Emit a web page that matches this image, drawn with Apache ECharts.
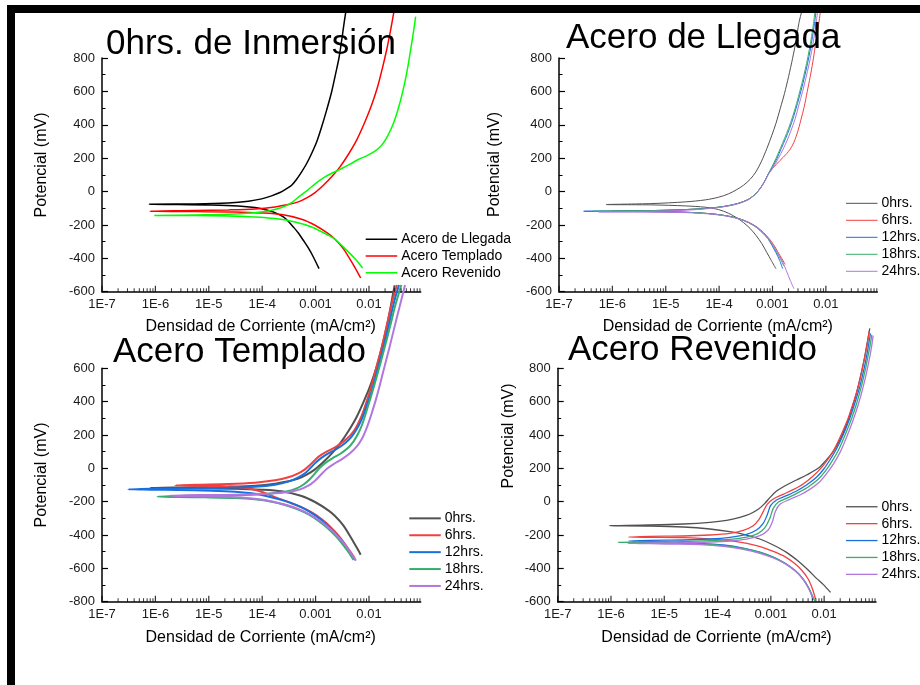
<!DOCTYPE html>
<html><head><meta charset="utf-8">
<script src="https://cdn.jsdelivr.net/npm/echarts@6.0.0/dist/echarts.min.js"></script>
<style>html,body{margin:0;padding:0;background:#fff}#c{width:920px;height:685px}</style>
</head><body><div id="c"></div>
<script>
const FONT = '"Liberation Sans", Arial, Helvetica, sans-serif';

// ---- tick labels / tick values ----
const xTickValues = [1e-7, 1e-6, 1e-5, 1e-4, 1e-3, 1e-2];
const xTickLabels = ['1E-7', '1E-6', '1E-5', '1E-4', '0.001', '0.01'];
const xMinorTicks = [2e-7,3e-7,4e-7,5e-7,6e-7,7e-7,8e-7,9e-7,
  2e-6,3e-6,4e-6,5e-6,6e-6,7e-6,8e-6,9e-6,
  2e-5,3e-5,4e-5,5e-5,6e-5,7e-5,8e-5,9e-5,
  2e-4,3e-4,4e-4,5e-4,6e-4,7e-4,8e-4,9e-4,
  2e-3,3e-3,4e-3,5e-3,6e-3,7e-3,8e-3,9e-3,
  0.02,0.03,0.04,0.05,0.06,0.07,0.08,0.09];

// ---- texts ----
const panelTitles = ['0hrs. de Inmersión', 'Acero de Llegada', 'Acero Templado', 'Acero Revenido'];
const xAxisTitle = 'Densidad de Corriente (mA/cm²)';
const yAxisTitle = 'Potencial (mV)';
const p1Names = ['Acero de Llegada', 'Acero Templado', 'Acero Revenido'];
const hrsNames = ['0hrs.', '6hrs.', '12hrs.', '18hrs.', '24hrs.'];

// ---- data: [current density (mA/cm²), potential (mV)] ----
const p1Llegada = [[1.16e-3,-462],[9.08e-4,-392],[7.31e-4,-338],[5.89e-4,-292],[4.75e-4,-248],[3.83e-4,-212],[3.08e-4,-178],[2.49e-4,-152],[1.74e-4,-126],[1.21e-4,-110],[7.33e-5,-96],[3.57e-5,-86],[1.13e-5,-80],[2.69e-6,-78],[7.69e-7,-76],[5.52e-6,-74],[2.32e-5,-68],[5.50e-5,-58],[9.77e-5,-44],[1.50e-4,-26],[2.15e-4,-6],[2.87e-4,18],[3.56e-4,38],[4.42e-4,74],[5.48e-4,118],[6.81e-4,168],[8.43e-4,228],[1.05e-3,298],[1.30e-3,388],[1.61e-3,488],[2.00e-3,598],[2.38e-3,708],[2.74e-3,800],[3.12e-3,918],[3.45e-3,1018],[3.77e-3,1098]];
const p1Templado = [[6.98e-3,-518],[6.31e-3,-492],[4.73e-3,-422],[3.30e-3,-342],[2.31e-3,-286],[1.73e-3,-252],[9.75e-4,-202],[5.48e-4,-166],[2.32e-4,-138],[9.77e-5,-128],[3.10e-5,-122],[5.52e-6,-120],[7.93e-7,-118],[5.52e-6,-114],[2.32e-5,-110],[7.33e-5,-104],[1.74e-4,-92],[3.08e-4,-78],[4.75e-4,-62],[6.81e-4,-38],[9.75e-4,-6],[1.40e-3,38],[2.00e-3,88],[2.86e-3,148],[4.10e-3,222],[5.87e-3,308],[8.41e-3,418],[1.12e-2,518],[1.45e-2,628],[1.78e-2,738],[2.14e-2,848],[2.51e-2,958],[2.86e-2,1058],[3.03e-2,1098]];
const p1Revenido = [[7.60e-3,-458],[5.47e-3,-402],[3.56e-3,-342],[2.31e-3,-286],[1.73e-3,-262],[8.43e-4,-212],[4.11e-4,-182],[1.74e-4,-162],[7.33e-5,-152],[2.32e-5,-146],[5.52e-6,-144],[9.55e-7,-144],[5.52e-6,-140],[2.32e-5,-136],[6.35e-5,-128],[1.30e-4,-116],[2.32e-4,-96],[3.56e-4,-66],[5.11e-4,-26],[7.31e-4,12],[1.05e-3,54],[1.50e-3,88],[2.15e-3,114],[3.08e-3,138],[4.41e-3,164],[6.31e-3,192],[9.03e-3,214],[1.29e-2,242],[1.73e-2,278],[2.24e-2,334],[2.86e-2,408],[3.54e-2,498],[4.21e-2,588],[4.93e-2,688],[5.61e-2,788],[6.30e-2,888],[6.97e-2,978],[7.48e-2,1048]];

const p2h0 = [[1.16e-3,-462],[9.46e-4,-412],[7.85e-4,-366],[6.32e-4,-312],[4.89e-4,-262],[3.83e-4,-222],[2.87e-4,-186],[2.15e-4,-158],[1.50e-4,-130],[9.77e-5,-108],[5.50e-5,-94],[2.32e-5,-86],[5.52e-6,-80],[7.69e-7,-78],[5.52e-6,-72],[2.32e-5,-62],[5.50e-5,-50],[9.77e-5,-34],[1.50e-4,-14],[2.15e-4,12],[2.87e-4,38],[3.83e-4,74],[4.89e-4,118],[6.15e-4,178],[7.85e-4,258],[9.75e-4,338],[1.16e-3,408],[1.40e-3,498],[1.68e-3,588],[2.00e-3,688],[2.38e-3,798],[2.78e-3,908],[3.12e-3,1008],[3.66e-3,1098]];
const p2h6 = [[1.73e-3,-436],[1.50e-3,-402],[1.26e-3,-362],[1.05e-3,-318],[8.43e-4,-278],[6.81e-4,-246],[5.11e-4,-212],[3.56e-4,-184],[2.32e-4,-162],[1.30e-4,-144],[6.35e-5,-132],[2.32e-5,-124],[5.52e-6,-120],[9.83e-7,-118],[5.52e-6,-114],[2.32e-5,-108],[6.35e-5,-100],[1.30e-4,-88],[2.32e-4,-70],[3.56e-4,-46],[4.89e-4,-12],[6.15e-4,28],[7.31e-4,68],[8.43e-4,108],[1.00e-3,138],[1.38e-3,186],[1.86e-3,228],[2.38e-3,278],[2.90e-3,348],[3.40e-3,428],[3.93e-3,508],[4.47e-3,598],[5.09e-3,688],[5.71e-3,778],[6.31e-3,868],[6.98e-3,958],[7.60e-3,1038],[8.05e-3,1098]];
const p2h12 = [[1.55e-3,-462],[1.36e-3,-412],[1.16e-3,-366],[9.75e-4,-322],[8.20e-4,-282],[6.61e-4,-250],[5.11e-4,-216],[3.56e-4,-186],[2.32e-4,-162],[1.30e-4,-144],[6.35e-5,-132],[2.32e-5,-124],[5.52e-6,-120],[2.90e-7,-118],[5.52e-6,-114],[2.32e-5,-108],[6.35e-5,-100],[1.30e-4,-88],[2.32e-4,-70],[3.56e-4,-46],[4.89e-4,-12],[6.15e-4,28],[7.31e-4,68],[8.43e-4,108],[1.00e-3,148],[1.21e-3,198],[1.46e-3,258],[1.76e-3,318],[2.09e-3,378],[2.48e-3,448],[2.94e-3,528],[3.45e-3,608],[3.98e-3,688],[4.54e-3,768],[5.09e-3,848],[5.62e-3,928],[6.14e-3,1008],[6.59e-3,1088]];
const p2h18 = [[1.63e-3,-446],[1.42e-3,-406],[1.19e-3,-362],[1.00e-3,-322],[8.32e-4,-282],[6.70e-4,-250],[5.11e-4,-216],[3.56e-4,-186],[2.32e-4,-162],[1.30e-4,-144],[6.35e-5,-132],[2.32e-5,-124],[5.52e-6,-120],[4.46e-7,-118],[5.52e-6,-114],[2.32e-5,-108],[6.35e-5,-100],[1.30e-4,-88],[2.32e-4,-70],[3.56e-4,-46],[4.89e-4,-12],[6.15e-4,28],[7.31e-4,68],[8.43e-4,108],[9.75e-4,148],[1.16e-3,198],[1.40e-3,258],[1.68e-3,318],[2.00e-3,378],[2.38e-3,448],[2.83e-3,528],[3.30e-3,608],[3.82e-3,688],[4.35e-3,768],[4.88e-3,848],[5.40e-3,928],[5.87e-3,1008],[6.31e-3,1088]];
const p2h24 = [[2.52e-3,-582],[2.15e-3,-532],[1.81e-3,-472],[1.50e-3,-412],[1.24e-3,-366],[1.03e-3,-322],[8.43e-4,-282],[6.70e-4,-248],[5.11e-4,-216],[3.56e-4,-186],[2.32e-4,-164],[1.30e-4,-146],[6.35e-5,-134],[2.32e-5,-126],[5.52e-6,-124],[5.53e-7,-122],[5.52e-6,-118],[2.32e-5,-112],[6.35e-5,-102],[1.30e-4,-90],[2.32e-4,-72],[3.56e-4,-48],[4.89e-4,-14],[6.15e-4,26],[7.31e-4,66],[8.43e-4,104],[1.02e-3,142],[1.26e-3,194],[1.55e-3,248],[1.89e-3,308],[2.24e-3,368],[2.67e-3,438],[3.12e-3,518],[3.66e-3,598],[4.21e-3,678],[4.81e-3,758],[5.40e-3,838],[5.96e-3,918],[6.50e-3,998],[7.08e-3,1088]];

const p3h0 = p1Templado;
const p3h6 = [[5.47e-3,-542],[4.47e-3,-500],[3.55e-3,-454],[2.67e-3,-402],[1.94e-3,-354],[1.36e-3,-310],[9.08e-4,-270],[5.64e-4,-236],[3.32e-4,-206],[2.00e-4,-180],[1.30e-4,-156],[8.46e-5,-134],[4.76e-5,-118],[1.74e-5,-108],[5.52e-6,-104],[2.33e-6,-102],[5.52e-6,-98],[2.32e-5,-94],[7.33e-5,-86],[1.74e-4,-72],[3.08e-4,-54],[4.75e-4,-30],[6.32e-4,-6],[7.85e-4,20],[9.75e-4,50],[1.21e-3,76],[1.61e-3,100],[2.31e-3,126],[3.30e-3,160],[4.41e-3,196],[5.47e-3,234],[6.50e-3,280],[7.60e-3,330],[8.78e-3,390],[1.01e-2,450],[1.19e-2,530],[1.41e-2,620],[1.68e-2,710],[1.96e-2,800],[2.27e-2,890],[2.58e-2,970],[2.94e-2,1040],[3.34e-2,1100]];
const p3h12 = [[5.47e-3,-550],[4.47e-3,-506],[3.55e-3,-460],[2.67e-3,-410],[1.91e-3,-360],[1.34e-3,-314],[8.68e-4,-270],[5.48e-4,-234],[3.32e-4,-206],[2.00e-4,-184],[1.13e-4,-164],[6.35e-5,-150],[3.10e-5,-140],[1.13e-5,-134],[2.69e-6,-130],[8.51e-7,-128],[3.11e-7,-126],[8.51e-7,-122],[5.52e-6,-120],[2.32e-5,-116],[7.33e-5,-110],[1.74e-4,-98],[3.08e-4,-80],[4.75e-4,-54],[6.51e-4,-26],[8.20e-4,6],[1.02e-3,36],[1.30e-3,64],[1.73e-3,90],[2.48e-3,116],[3.55e-3,150],[4.73e-3,190],[5.87e-3,234],[6.98e-3,280],[8.17e-3,334],[9.44e-3,394],[1.11e-2,456],[1.29e-2,534],[1.54e-2,624],[1.83e-2,714],[2.14e-2,804],[2.47e-2,890],[2.81e-2,970],[3.20e-2,1040],[3.65e-2,1100]];
const p3h18 = [[5.16e-3,-550],[4.21e-3,-506],[3.30e-3,-460],[2.44e-3,-410],[1.73e-3,-362],[1.17e-3,-318],[7.52e-4,-278],[4.61e-4,-246],[2.67e-4,-220],[1.50e-4,-200],[7.33e-5,-186],[3.10e-5,-178],[8.49e-6,-174],[2.69e-6,-172],[1.10e-6,-170],[2.69e-6,-166],[1.13e-5,-164],[4.76e-5,-160],[1.30e-4,-152],[2.67e-4,-140],[4.42e-4,-120],[6.15e-4,-94],[7.85e-4,-64],[9.75e-4,-30],[1.21e-3,4],[1.55e-3,34],[2.06e-3,60],[2.86e-3,86],[3.98e-3,120],[5.16e-3,162],[6.31e-3,210],[7.39e-3,260],[8.54e-3,320],[9.86e-3,386],[1.15e-2,456],[1.35e-2,534],[1.61e-2,622],[1.91e-2,712],[2.27e-2,802],[2.66e-2,890],[3.07e-2,970],[3.54e-2,1040],[4.03e-2,1100]];
const p3h24 = [[5.71e-3,-554],[4.60e-3,-510],[3.66e-3,-464],[2.70e-3,-414],[1.91e-3,-366],[1.30e-3,-322],[8.20e-4,-280],[4.96e-4,-246],[2.87e-4,-220],[1.62e-4,-200],[7.88e-5,-184],[3.10e-5,-174],[8.49e-6,-168],[1.88e-6,-164],[8.49e-6,-160],[3.57e-5,-158],[1.30e-4,-152],[3.08e-4,-142],[5.11e-4,-126],[7.31e-4,-104],[9.75e-4,-74],[1.24e-3,-40],[1.61e-3,-4],[2.15e-3,24],[3.08e-3,54],[4.41e-3,90],[5.87e-3,130],[7.29e-3,174],[8.66e-3,226],[1.00e-2,280],[1.15e-2,340],[1.33e-2,406],[1.54e-2,480],[1.78e-2,560],[2.08e-2,644],[2.44e-2,730],[2.86e-2,820],[3.30e-2,900],[3.75e-2,970],[4.21e-2,1034],[4.72e-2,1100]];

const p4h0 = [[1.32e-2,-544],[9.57e-3,-496],[7.18e-3,-460],[5.01e-3,-410],[3.25e-3,-356],[1.97e-3,-304],[1.11e-3,-260],[6.22e-4,-224],[3.50e-4,-200],[1.70e-4,-180],[7.18e-5,-164],[2.27e-5,-152],[5.38e-6,-146],[9.31e-7,-144],[5.38e-6,-140],[2.27e-5,-134],[7.18e-5,-124],[1.48e-4,-112],[2.62e-4,-94],[4.04e-4,-74],[5.79e-4,-46],[7.72e-4,-10],[9.57e-4,24],[1.28e-3,64],[1.97e-3,100],[3.03e-3,130],[4.67e-3,160],[7.72e-3,200],[1.03e-2,240],[1.48e-2,300],[1.97e-2,370],[2.62e-2,460],[3.25e-2,550],[4.04e-2,650],[4.80e-2,750],[5.62e-2,850],[6.40e-2,950],[7.18e-2,1040]];
const p4h6 = [[6.88e-3,-584],[6.04e-3,-524],[5.01e-3,-464],[3.76e-3,-410],[2.62e-3,-364],[1.70e-3,-324],[9.57e-4,-290],[5.38e-4,-264],[2.27e-4,-240],[9.57e-5,-226],[2.27e-5,-216],[5.38e-6,-214],[2.11e-6,-212],[5.38e-6,-208],[2.27e-5,-206],[7.18e-5,-200],[1.70e-4,-190],[3.03e-4,-172],[4.67e-4,-144],[6.04e-4,-104],[7.18e-4,-60],[8.53e-4,-16],[1.11e-3,16],[1.70e-3,44],[2.62e-3,72],[4.04e-3,106],[6.22e-3,154],[8.91e-3,204],[1.19e-2,256],[1.58e-2,320],[2.11e-2,404],[2.82e-2,500],[3.50e-2,590],[4.34e-2,690],[5.16e-2,790],[5.96e-2,890],[6.59e-2,964],[6.98e-2,1020]];
const p4h12 = [[6.22e-3,-590],[5.24e-3,-524],[4.04e-3,-464],[2.82e-3,-412],[1.83e-3,-368],[1.11e-3,-332],[6.22e-4,-302],[3.03e-4,-278],[1.28e-4,-260],[4.67e-5,-250],[1.11e-5,-242],[5.38e-6,-238],[2.11e-6,-236],[5.38e-6,-232],[2.27e-5,-230],[7.18e-5,-224],[1.70e-4,-214],[3.50e-4,-196],[5.38e-4,-170],[7.18e-4,-130],[8.53e-4,-80],[9.86e-4,-24],[1.28e-3,10],[1.97e-3,36],[3.03e-3,64],[4.67e-3,100],[7.18e-3,146],[9.86e-3,196],[1.28e-2,250],[1.70e-2,316],[2.27e-2,400],[3.03e-2,500],[3.76e-2,590],[4.67e-2,690],[5.55e-2,790],[6.40e-2,890],[6.98e-2,960],[7.40e-2,1010]];
const p4h18 = [[6.68e-3,-596],[5.38e-3,-530],[4.16e-3,-470],[2.90e-3,-416],[1.88e-3,-372],[1.14e-3,-336],[6.40e-4,-306],[3.12e-4,-282],[1.28e-4,-264],[4.67e-5,-254],[1.11e-5,-248],[5.38e-6,-246],[1.37e-6,-244],[5.38e-6,-242],[2.27e-5,-240],[7.18e-5,-234],[1.70e-4,-226],[3.50e-4,-212],[5.79e-4,-190],[7.72e-4,-156],[9.57e-4,-100],[1.11e-3,-40],[1.37e-3,-4],[2.11e-3,24],[3.25e-3,54],[5.01e-3,88],[7.72e-3,134],[1.07e-2,186],[1.39e-2,240],[1.86e-2,310],[2.44e-2,396],[3.25e-2,496],[4.04e-2,586],[4.94e-2,686],[5.87e-2,786],[6.78e-2,886],[7.40e-2,950],[7.83e-2,1000]];
const p4h24 = [[6.40e-3,-590],[5.16e-3,-524],[3.98e-3,-464],[2.78e-3,-412],[1.80e-3,-370],[1.11e-3,-338],[6.22e-4,-310],[3.03e-4,-286],[1.28e-4,-268],[4.67e-5,-258],[1.11e-5,-254],[5.38e-6,-252],[2.05e-6,-250],[5.38e-6,-248],[2.27e-5,-246],[7.18e-5,-242],[1.70e-4,-236],[3.50e-4,-224],[6.22e-4,-204],[8.91e-4,-170],[1.07e-3,-120],[1.21e-3,-60],[1.48e-3,-16],[2.27e-3,14],[3.50e-3,40],[5.38e-3,74],[8.30e-3,120],[1.15e-2,174],[1.52e-2,230],[2.02e-2,300],[2.66e-2,390],[3.50e-2,490],[4.34e-2,580],[5.31e-2,680],[6.31e-2,780],[7.29e-2,880],[7.94e-2,950],[8.30e-2,996]];

// ---- styles ----
const p1Colors = ['#000000', '#ff0000', '#00ff00'];
const hrsColors = ['#515151', '#f14040', '#1a6fdf', '#37ad6b', '#b177de'];

const grids = [
  {left: 102, top: 58, width: 318.7, height: 233.7},
  {left: 559, top: 58, width: 318.3, height: 233.7},
  {left: 102, top: 368.3, width: 318.7, height: 233.4},
  {left: 557.7, top: 368.3, width: 318.3, height: 233.4}
];
const yRange = [[-600, 800], [-600, 800], [-800, 600], [-600, 800]];
const xMax = [0.093, 0.092, 0.093, 0.094];
const lineWidths = [1.5, 1, 2, 1.3];

function fmtX(v) {
  const lg = Math.log10(v);
  const e = Math.round(lg);
  const idx = e + 7;
  if (Math.abs(lg - e) < 0.01 && idx >= 0 && idx < xTickLabels.length) return xTickLabels[idx];
  return '';
}

const xAxes = grids.map((g, i) => ({
  type: 'log', logBase: 10, gridIndex: i, min: 1e-7, max: xMax[i],
  axisLine: {show: true, onZero: false, lineStyle: {color: '#000', width: 1.5}},
  axisTick: {show: false}, minorTick: {show: false},
  splitLine: {show: false}, minorSplitLine: {show: false},
  axisLabel: {show: true, formatter: fmtX, fontSize: 13, fontFamily: FONT, color: '#1a1a1a', margin: 6, hideOverlap: false}
}));
const yAxes = grids.map((g, i) => ({
  type: 'value', gridIndex: i, min: yRange[i][0], max: yRange[i][1], interval: 200,
  axisLine: {show: true, onZero: false, lineStyle: {color: '#000', width: 1.5}},
  axisTick: {show: true, inside: true, length: 6, lineStyle: {color: '#000', width: 1.2}},
  minorTick: {show: true, splitNumber: 2, length: 3.5, lineStyle: {color: '#000', width: 1}},
  splitLine: {show: false},
  axisLabel: {fontSize: 13, fontFamily: FONT, color: '#1a1a1a', margin: 7}
}));

const series = [];
function addLine(name, data, gi, color, width) {
  series.push({
    type: 'line', name: name, xAxisIndex: gi, yAxisIndex: gi, data: data,
    symbol: 'none', showSymbol: false, smooth: 0.3, clip: false,
    lineStyle: {color: color, width: width}, itemStyle: {color: color},
    emphasis: {disabled: true}, silent: true, animation: false
  });
}
const zw = ['', '', '\u200b', '\u200b\u200b'];
[p1Llegada, p1Templado, p1Revenido].forEach((d, k) => addLine(p1Names[k], d, 0, p1Colors[k], lineWidths[0]));
[p2h0, p2h6, p2h12, p2h18, p2h24].forEach((d, k) => addLine(hrsNames[k], d, 1, hrsColors[k], lineWidths[1]));
[p3h0, p3h6, p3h12, p3h18, p3h24].forEach((d, k) => addLine(hrsNames[k] + zw[2], d, 2, hrsColors[k], lineWidths[2]));
[p4h0, p4h6, p4h12, p4h18, p4h24].forEach((d, k) => addLine(hrsNames[k] + zw[3], d, 3, hrsColors[k], lineWidths[3]));

// x-axis ticks (log decades and 2..9 minor) drawn through the axis scales
grids.forEach((g, i) => {
  const y0 = yRange[i][0];
  series.push({type: 'scatter', xAxisIndex: i, yAxisIndex: i, data: xTickValues.map(v => [v, y0]),
    symbol: 'rect', symbolSize: [1.2, 6], symbolOffset: [0, '-50%'], itemStyle: {color: '#000'},
    silent: true, clip: false, z: 5, animation: false});
  series.push({type: 'scatter', xAxisIndex: i, yAxisIndex: i, data: xMinorTicks.filter(v => v < xMax[i]).map(v => [v, y0]),
    symbol: 'rect', symbolSize: [1, 3.5], symbolOffset: [0, '-50%'], itemStyle: {color: '#000'},
    silent: true, clip: false, z: 5, animation: false});
});

function mkLegend(names, left, top, gap, lw) {
  return {data: names, orient: 'vertical', left: left, top: top, icon: 'rect',
    itemWidth: 31.5, itemHeight: lw, itemGap: 0, padding: 0, selectedMode: false,
    formatter: n => n.replace(/\u200b/g, ''),
    textStyle: {fontSize: 14, fontFamily: FONT, color: '#000', lineHeight: gap, padding: [0, 0, 0, -1]}};
}
const legends = [
  mkLegend(p1Names, 365.7, 231, 16.7, lineWidths[0]),
  mkLegend(hrsNames, 846, 194.8, 17, lineWidths[1]),
  mkLegend(hrsNames.map(n => n + zw[2]), 409.3, 509.9, 16.9, lineWidths[2]),
  mkLegend(hrsNames.map(n => n + zw[3]), 846, 498.3, 16.9, lineWidths[3])
];

function txt(text, x, y, size, rot, align) {
  return {type: 'text', x: x, y: y, rotation: rot || 0, z: 50, silent: true,
    style: {text: text, fontSize: size, fontFamily: FONT, fill: '#000', align: align || 'left', verticalAlign: 'middle'}};
}
const graphics = [
  txt(panelTitles[0], 106, 43.9, 35),
  txt(panelTitles[1], 566, 38.6, 35),
  txt(panelTitles[2], 113, 351.9, 35),
  txt(panelTitles[3], 568, 350.2, 35),
  txt(xAxisTitle, 260.7, 326.8, 16, 0, 'center'),
  txt(xAxisTitle, 717.8, 326.8, 16, 0, 'center'),
  txt(xAxisTitle, 260.7, 637.7, 16, 0, 'center'),
  txt(xAxisTitle, 716.5, 637.7, 16, 0, 'center'),
  txt(yAxisTitle, 42, 165, 16, Math.PI / 2, 'center'),
  txt(yAxisTitle, 495, 164.5, 16, Math.PI / 2, 'center'),
  txt(yAxisTitle, 42, 475, 16, Math.PI / 2, 'center'),
  txt(yAxisTitle, 509, 436, 16, Math.PI / 2, 'center'),
  {type: 'rect', z: 100, silent: true, shape: {x: 7, y: 5, width: 913, height: 8}, style: {fill: '#000'}},
  {type: 'rect', z: 100, silent: true, shape: {x: 7, y: 5, width: 8, height: 680}, style: {fill: '#000'}}
];

const chart = echarts.init(document.getElementById('c'), null, {renderer: 'canvas'});
chart.setOption({
  animation: false,
  backgroundColor: '#ffffff',
  grid: grids,
  xAxis: xAxes,
  yAxis: yAxes,
  legend: legends,
  series: series,
  graphic: {elements: graphics}
});
</script>
</body></html>
